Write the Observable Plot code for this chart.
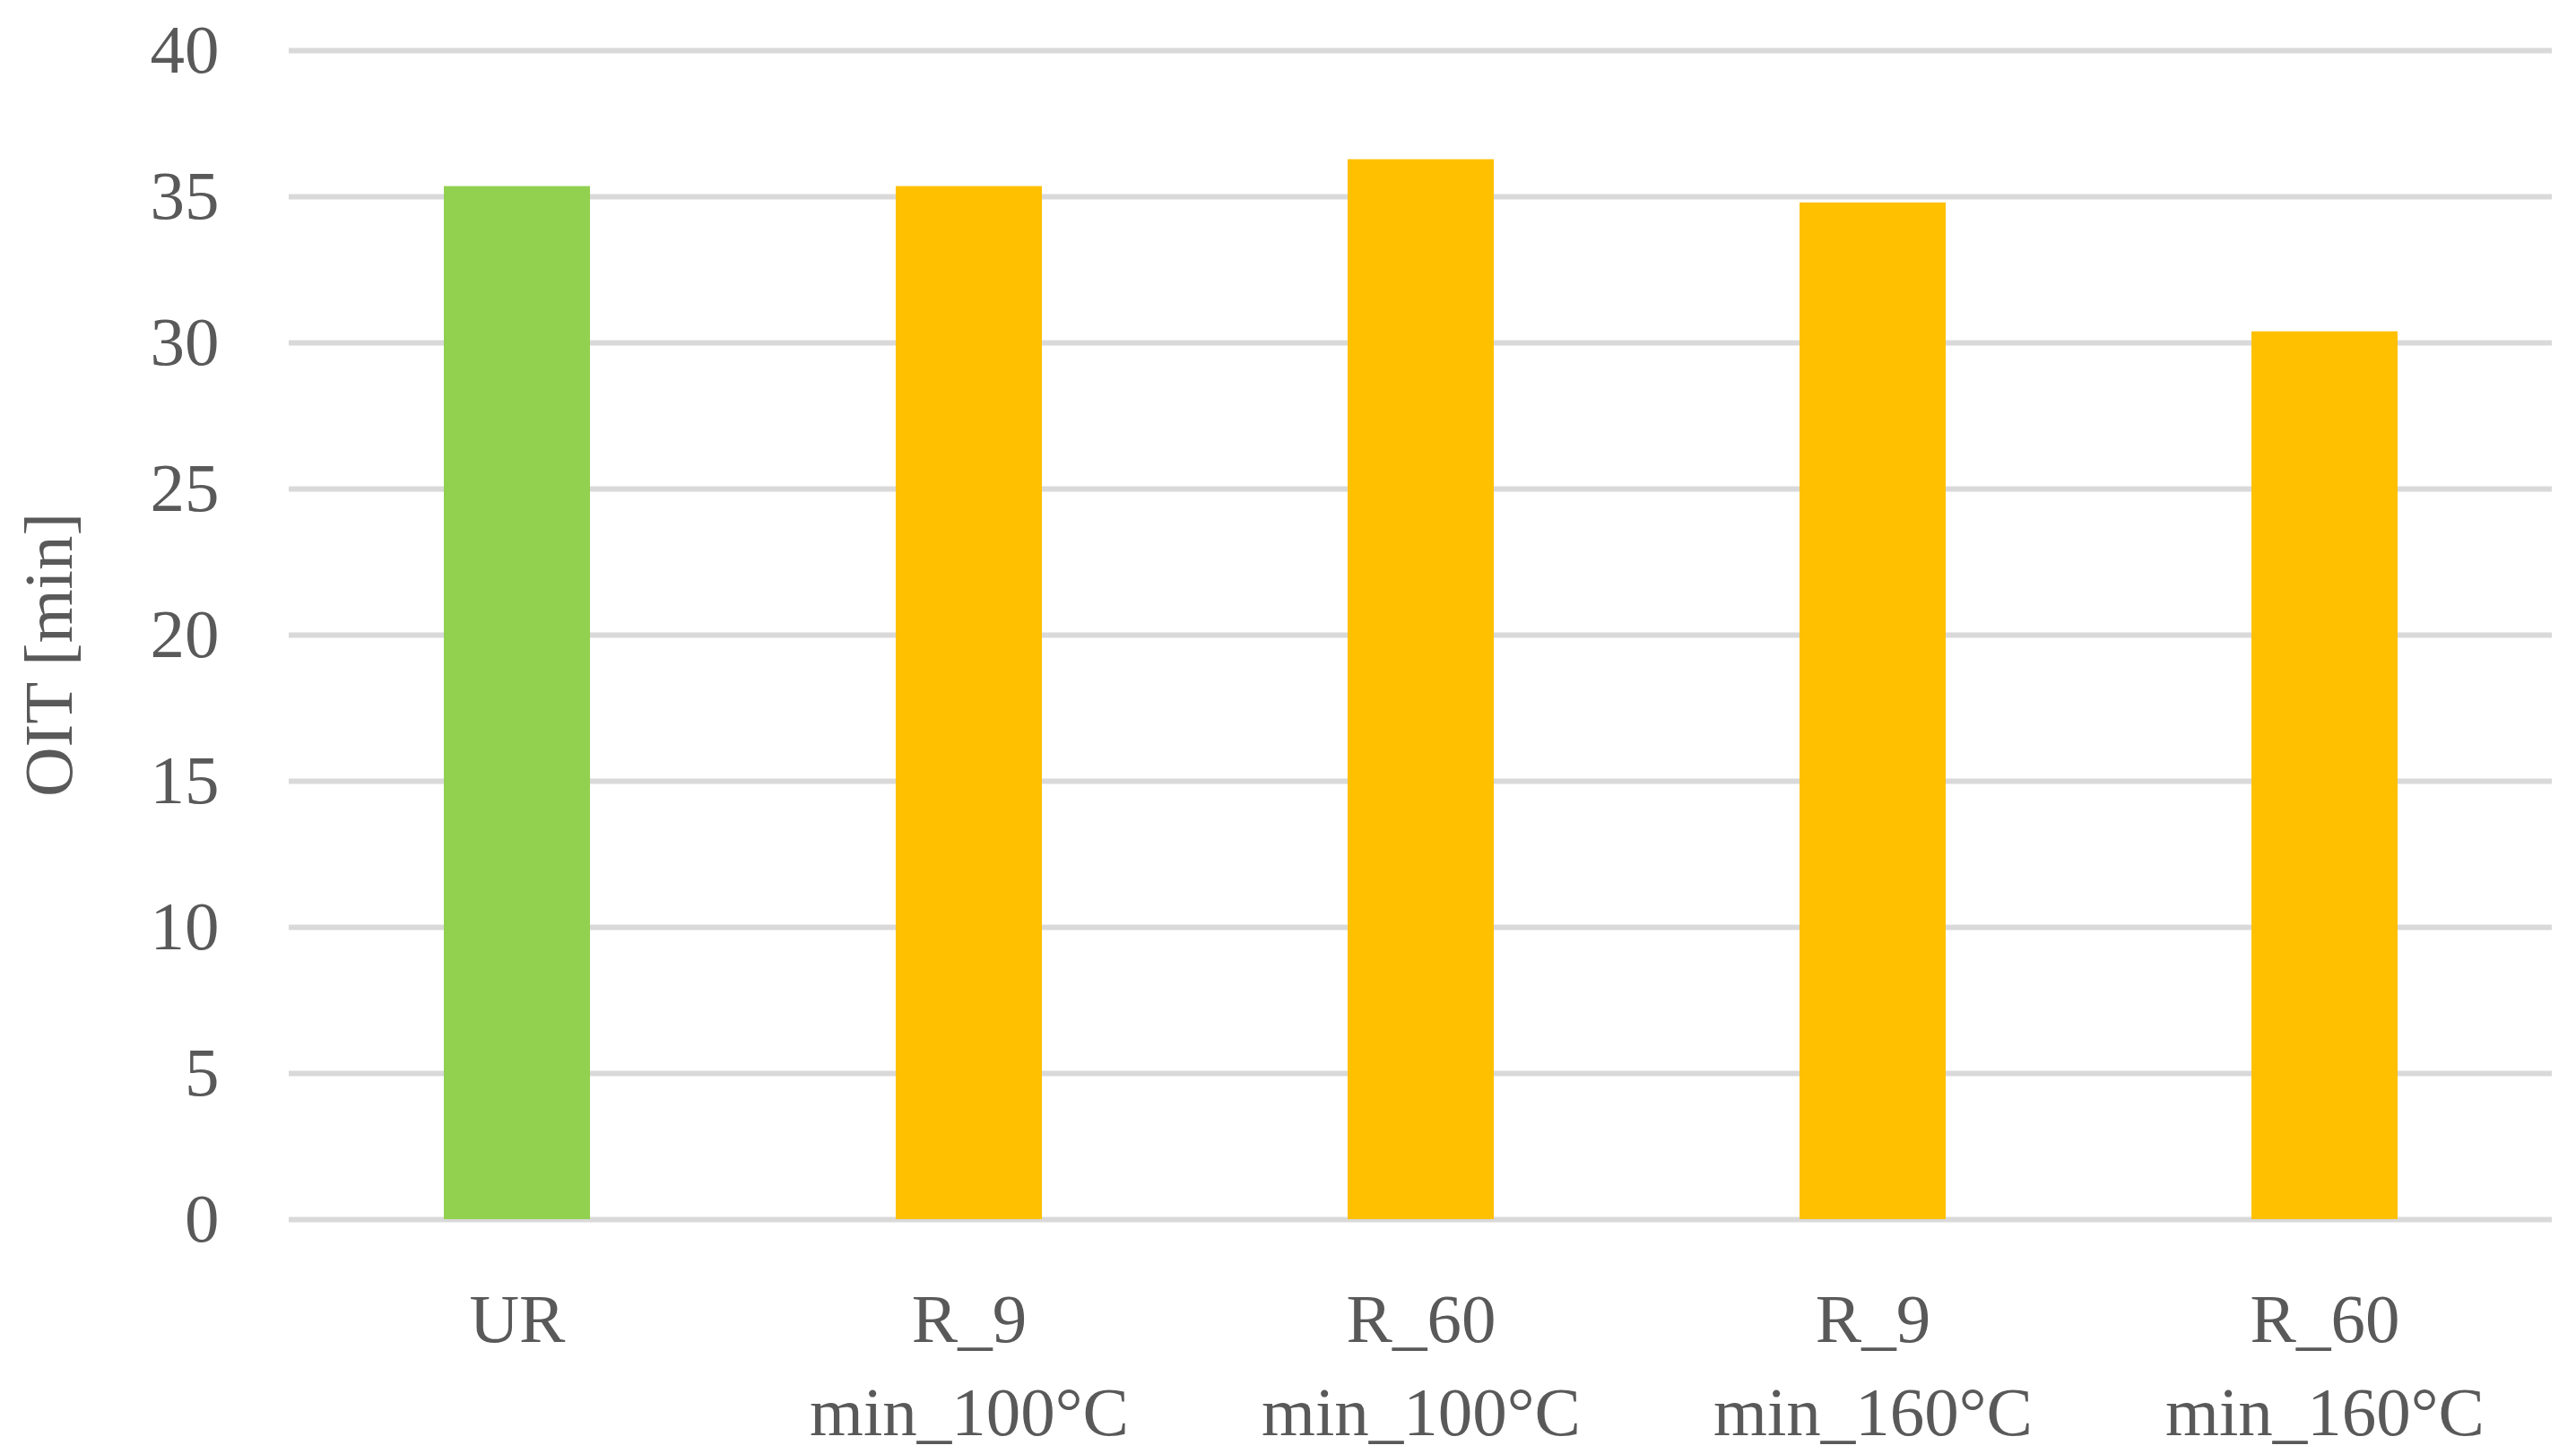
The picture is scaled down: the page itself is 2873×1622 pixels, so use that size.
<!DOCTYPE html>
<html>
<head>
<meta charset="utf-8">
<script src="https://cdn.jsdelivr.net/npm/d3@7"></script>
<script src="https://cdn.jsdelivr.net/npm/@observablehq/plot@0.6"></script>
<style>
  html, body { margin: 0; padding: 0; background: #ffffff; overflow: hidden; }
</style>
</head>
<body>
<div id="chart"></div>
<script>
const categories = ["UR", "R_9\nmin_100°C", "R_60\nmin_100°C", "R_9\nmin_160°C", "R_60\nmin_160°C"];
const oit = [35.35, 35.35, 36.27, 34.79, 30.38];
const barColors = ["#92D050", "#FFC000", "#FFC000", "#FFC000", "#FFC000"];
const yTicks = [0, 5, 10, 15, 20, 25, 30, 35, 40];
const yTitle = "OIT [min]";

const data = categories.map((c, i) => ({category: c, oit: oit[i], color: barColors[i]}));

const chart = Plot.plot({
  width: 2873,
  height: 1622,
  marginLeft: 322,
  marginRight: 27,
  marginTop: 56,
  marginBottom: 262,
  style: {fontFamily: "'Liberation Serif', serif", color: "#595959", background: "#ffffff", overflow: "visible"},
  x: {domain: categories, paddingInner: 0.677, paddingOuter: 0.3385, label: null},
  y: {domain: [0, 40], label: null},
  marks: [
    Plot.gridY(yTicks, {stroke: "#D9D9D9", strokeOpacity: 1, strokeWidth: 6}),
    Plot.barY(data, {x: "category", y: "oit", fill: "color"}),
    Plot.axisY(yTicks, {tickSize: 0, tickPadding: 78, fontSize: 77, label: null}),
    Plot.axisX({tickSize: 0, tickPadding: 63, fontSize: 77, lineHeight: 1.35, label: null}),
    Plot.text([yTitle], {text: d => d, frameAnchor: "left", textAnchor: "middle", rotate: -90, dx: -267, dy: 22, fontSize: 77, fill: "#595959"})
  ]
});
document.getElementById("chart").appendChild(chart);
</script>
</body>
</html>
